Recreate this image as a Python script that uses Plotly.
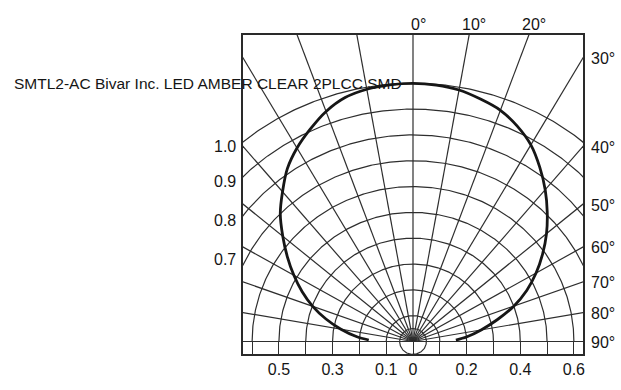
import numpy as np
import plotly.graph_objects as go

# ---- data ----
angles = [-88, -85, -80, -75, -70, -65, -60, -55, -50, -45, -40, -35, -30, -25, -20, -15, -10, -5, 0,
          5, 10, 15, 20, 25, 30, 35, 40, 45, 50, 55, 60, 65, 70, 75, 80, 85, 88]
intensity = [0.165, 0.21, 0.273, 0.336, 0.398, 0.456, 0.513, 0.572, 0.634, 0.70, 0.757, 0.817, 0.865,
             0.907, 0.948, 0.978, 0.992, 0.998, 1.0,
             0.997, 0.989, 0.972, 0.953, 0.92, 0.879, 0.824, 0.767, 0.708, 0.65, 0.59, 0.53, 0.468,
             0.40, 0.325, 0.258, 0.20, 0.16]

ring_radii = [0.1, 0.2, 0.3, 0.4, 0.5, 0.6, 0.7, 0.8, 0.9, 1.0]
inner_ring = 0.05
spoke_angles = list(range(-90, 91, 10))
top_angle_labels = [0, 10, 20]
right_angle_labels = [30, 40, 50, 60, 70, 80, 90]
radius_labels = [1.0, 0.9, 0.8, 0.7]
bottom_tick_vals = [-0.6, -0.5, -0.4, -0.3, -0.2, -0.1, 0, 0.1, 0.2, 0.3, 0.4, 0.5, 0.6]
bottom_tick_text = ["", "0.5", "", "0.3", "", "0.1", "0", "", "0.2", "", "0.4", "", "0.6"]
title_text = "SMTL2-AC Bivar Inc. LED AMBER CLEAR 2PLCC SMD"

XR = [-0.634, 0.634]
YR = [-0.0485, 1.187]
GRID = "#2e2e2e"
TXT = "#151515"
FONT = "Liberation Sans, Arial, sans-serif"

fig = go.Figure()

# rings
gx, gy = [], []
t = np.radians(np.linspace(-90, 90, 361))
for r in ring_radii:
    gx += list(r * np.sin(t)) + [None]
    gy += list(r * np.cos(t)) + [None]
tf = np.radians(np.linspace(0, 360, 361))
gx += list(inner_ring * np.sin(tf)) + [None]
gy += list(inner_ring * np.cos(tf)) + [None]
# spokes
for a in spoke_angles:
    ar = np.radians(a)
    gx += [0, 3 * np.sin(ar), None]
    gy += [0, 3 * np.cos(ar), None]
# baseline
gx += [XR[0] - 1, XR[1] + 1, None]
gy += [0, 0, None]
fig.add_trace(go.Scatter(x=gx, y=gy, mode="lines",
                         line=dict(color=GRID, width=1.2), hoverinfo="skip",
                         showlegend=False))

# curve
ra = np.radians(angles)
ci = np.array(intensity)
fig.add_trace(go.Scatter(x=ci * np.sin(ra), y=ci * np.cos(ra), mode="lines",
                         line=dict(color="#161616", width=2.8, shape="spline", smoothing=0.8),
                         showlegend=False))


def px_paper(x):
    return (x - XR[0]) / (XR[1] - XR[0])


def py_paper(y):
    return (y - YR[0]) / (YR[1] - YR[0])


ann = []
for a in top_angle_labels:
    xd = YR[1] * np.tan(np.radians(a))
    ann.append(dict(x=px_paper(xd), y=1.034, xref="paper", yref="paper",
                    text=f"{a}°", showarrow=False, xanchor="center", yanchor="middle",
                    xshift=5, font=dict(size=16, color=TXT, family=FONT)))
for a in right_angle_labels:
    yd = XR[1] / np.tan(np.radians(a)) if a != 90 else 0.0
    ann.append(dict(x=1.0, y=py_paper(yd), xref="paper", yref="paper",
                    text=f"{a}°", showarrow=False, xanchor="left", yanchor="middle",
                    xshift=6, yshift=-1, font=dict(size=16, color=TXT, family=FONT)))
label_shift = [-5, -5, -5, 5]
for r, s in zip(radius_labels, label_shift):
    yd = np.sqrt(r ** 2 - XR[0] ** 2)
    ann.append(dict(x=0.0, y=py_paper(yd), xref="paper", yref="paper",
                    text=f"{r:.1f}", showarrow=False, xanchor="right", yanchor="middle",
                    xshift=-5, yshift=s, font=dict(size=16, color=TXT, family=FONT)))
ann.append(dict(x=-0.679, y=0.849, xref="paper", yref="paper", text=title_text,
                showarrow=False, xanchor="left", yanchor="middle",
                font=dict(size=15.5, color=TXT, family=FONT)))

fig.update_layout(
    width=621, height=390,
    margin=dict(l=243, r=38, t=35, b=24, pad=0),
    paper_bgcolor="white", plot_bgcolor="white",
    annotations=ann,
    xaxis=dict(range=XR, showgrid=False, zeroline=False, showline=True, mirror=True,
               linecolor="#2a2a2a", linewidth=1.5,
               tickmode="array", tickvals=bottom_tick_vals, ticktext=bottom_tick_text,
               ticks="inside", ticklen=13, tickcolor=GRID, tickwidth=1.2,
               tickfont=dict(size=16, color=TXT, family=FONT)),
    yaxis=dict(range=YR, showgrid=False, zeroline=False, showline=True, mirror=True,
               linecolor="#2a2a2a", linewidth=1.5, showticklabels=False, ticks=""),
)

fig.write_html("out.html")
